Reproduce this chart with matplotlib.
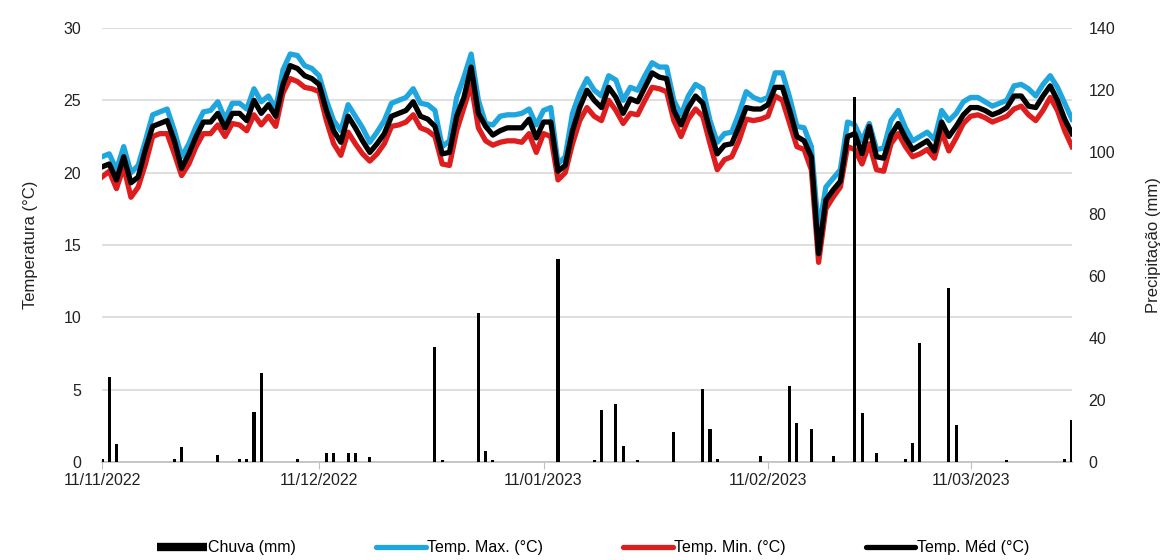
import numpy as np
import pandas as pd
import matplotlib
matplotlib.use('Agg')
import matplotlib.pyplot as plt
import matplotlib.dates as mdates
from matplotlib.lines import Line2D

plt.rcParams['font.family'] = ['Liberation Sans', 'DejaVu Sans']

# daily series, 11/11/2022 .. 25/03/2023
dates = pd.date_range('2022-11-11', '2023-03-25', freq='D')

temp_max = [21.1, 21.3, 20.2, 21.8, 20.0, 20.5, 22.2, 24.0, 24.2, 24.4, 22.9, 21.1, 22.0, 23.2, 24.2,
            24.3, 24.9, 23.7, 24.8, 24.8, 24.4, 25.8, 24.9, 25.3, 24.4, 27.1, 28.2, 28.1, 27.4, 27.2,
            26.7, 25.0, 23.6, 22.9, 24.7, 23.9, 23.1, 22.1, 22.8, 23.6, 24.8, 25.0, 25.2, 25.8, 24.8,
            24.7, 24.3, 21.8, 22.2, 25.2, 26.6, 28.2, 25.0, 23.4, 23.3, 23.9, 24.0, 24.0, 24.1, 24.4,
            23.3, 24.3, 24.5, 20.6, 21.1, 24.1, 25.5, 26.5, 25.7, 25.3, 26.7, 26.4, 25.0, 25.9, 25.7,
            26.7, 27.6, 27.3, 27.3, 25.0, 24.0, 25.3, 26.1, 25.8, 23.6, 22.1, 22.7, 22.8, 24.1, 25.6,
            25.2, 25.0, 25.2, 26.9, 26.9, 25.2, 23.2, 23.1, 21.8, 16.0, 19.0, 19.6, 20.2, 23.5, 23.3,
            22.2, 23.4, 21.6, 21.7, 23.6, 24.3, 23.1, 22.2, 22.5, 22.8, 22.3, 24.3, 23.6, 24.1, 24.9,
            25.2, 25.2, 24.9, 24.6, 24.8, 25.0, 26.0, 26.1, 25.8, 25.3, 26.1, 26.7, 25.9, 24.8, 23.7]

temp_min = [19.7, 20.1, 18.9, 20.4, 18.3, 19.0, 20.6, 22.5, 22.7, 22.7, 21.3, 19.8, 20.6, 21.8, 22.7,
            22.7, 23.3, 22.5, 23.4, 23.3, 22.9, 24.0, 23.3, 23.9, 23.2, 25.5, 26.5, 26.3, 25.9, 25.8,
            25.6, 23.6, 22.0, 21.2, 22.8, 22.0, 21.3, 20.8, 21.3, 22.0, 23.2, 23.3, 23.5, 24.0, 23.1,
            22.9, 22.5, 20.6, 20.5, 22.9, 24.5, 26.1, 23.1, 22.2, 21.9, 22.1, 22.2, 22.2, 22.1, 22.7,
            21.4, 22.7, 22.5, 19.5, 20.0, 22.0, 23.6, 24.5, 23.9, 23.6, 25.0, 24.3, 23.4, 24.1, 24.0,
            25.0, 25.9, 25.8, 25.6, 23.6, 22.5, 23.7, 24.4, 23.9, 22.0, 20.2, 20.9, 21.1, 22.2, 23.7,
            23.6, 23.7, 23.9, 25.3, 25.0, 23.4, 21.8, 21.6, 20.2, 13.8, 17.5, 18.3, 19.0, 21.8, 21.6,
            20.6, 22.0, 20.2, 20.1, 22.0, 22.7, 21.8, 21.1, 21.3, 21.6, 21.0, 22.8, 21.5, 22.4, 23.4,
            23.9, 24.0, 23.8, 23.5, 23.7, 23.9, 24.4, 24.6, 24.0, 23.6, 24.3, 25.2, 24.3, 22.9, 21.8]

temp_med = [20.4, 20.6, 19.5, 21.1, 19.3, 19.7, 21.6, 23.2, 23.4, 23.6, 22.2, 20.3, 21.3, 22.5, 23.5,
            23.5, 24.1, 23.1, 24.1, 24.1, 23.6, 25.0, 24.1, 24.7, 23.9, 26.1, 27.4, 27.2, 26.7, 26.5,
            26.1, 24.3, 22.9, 22.1, 23.9, 23.1, 22.2, 21.4, 22.0, 22.7, 23.9, 24.1, 24.3, 24.9, 23.9,
            23.7, 23.2, 21.3, 21.4, 23.9, 25.2, 27.3, 24.1, 23.2, 22.6, 22.9, 23.1, 23.1, 23.1, 23.7,
            22.4, 23.5, 23.5, 20.1, 20.5, 22.9, 24.5, 25.7, 25.0, 24.5, 25.9, 25.2, 24.1, 25.1, 24.9,
            25.9, 26.9, 26.6, 26.5, 24.3, 23.3, 24.5, 25.3, 24.8, 22.9, 21.3, 21.9, 22.0, 23.2, 24.5,
            24.4, 24.4, 24.7, 25.9, 25.9, 24.3, 22.5, 22.2, 21.1, 14.4, 18.1, 18.8, 19.4, 22.5, 22.7,
            21.3, 23.2, 21.1, 21.0, 22.6, 23.4, 22.4, 21.6, 21.9, 22.2, 21.5, 23.5, 22.5, 23.2, 24.0,
            24.5, 24.5, 24.3, 24.0, 24.2, 24.5, 25.3, 25.3, 24.6, 24.5, 25.3, 26.0, 25.0, 23.7, 22.7]

chuva = [1.0, 27.4, 5.8, 0, 0, 0, 0, 0, 0, 0, 1.0, 5.0, 0, 0, 0,
         0, 2.3, 0, 0, 1.0, 1.0, 16.0, 28.8, 0, 0, 0, 0, 1.0, 0, 0,
         0, 3.0, 3.0, 0, 3.0, 3.0, 0, 1.7, 0, 0, 0, 0, 0, 0, 0,
         0, 37.2, 0.5, 0, 0, 0, 0, 48.2, 3.7, 0.5, 0, 0, 0, 0, 0,
         0, 0, 0, 65.4, 0, 0, 0, 0, 0.5, 16.8, 0, 18.6, 5.2, 0, 0.5,
         0, 0, 0, 0, 9.8, 0, 0, 0, 23.4, 10.5, 1.0, 0, 0, 0, 0,
         0, 2.0, 0, 0, 0, 24.5, 12.7, 0, 10.6, 0, 0, 2.0, 0, 0, 117.8,
         15.9, 0, 3.0, 0, 0, 0, 1.0, 6.1, 38.4, 0, 0, 0, 56.1, 12.0, 0,
         0, 0, 0, 0, 0, 0.5, 0, 0, 0, 0, 0, 0, 0, 1.0, 13.4]

tick_dates = ['2022-11-11', '2022-12-11', '2023-01-11', '2023-02-11', '2023-03-11']

c_max = '#1fa6de'
c_min = '#de1e1e'
c_med = '#000000'
grid_c = '#d9d9d9'
txt_c = '#222222'

fig = plt.figure(figsize=(11.63, 5.6), dpi=100)
ax = fig.add_axes([0.0877, 0.175, 0.834, 0.775])

ax.plot(dates, temp_max, color=c_max, lw=3.8, solid_joinstyle='round', zorder=3)
ax.plot(dates, temp_min, color=c_min, lw=3.8, solid_joinstyle='round', zorder=3)
ax.plot(dates, temp_med, color=c_med, lw=3.8, solid_joinstyle='round', zorder=4)

ax.set_ylim(0, 30)
ax.set_yticks(np.arange(0, 31, 5))
ax.set_xlim(dates[0], dates[-1])
ax.yaxis.grid(True, color=grid_c, lw=1.2)
ax.set_axisbelow(True)
for s in ['top', 'left', 'right']:
    ax.spines[s].set_visible(False)
ax.spines['bottom'].set_color('#bfbfbf')
ax.spines['bottom'].set_linewidth(1.2)
ax.set_xticks(pd.to_datetime(tick_dates))
ax.xaxis.set_major_formatter(mdates.DateFormatter('%d/%m/%Y'))
ax.tick_params(axis='x', length=5, color='#bfbfbf', labelsize=11.5, pad=3, labelcolor=txt_c)
ax.tick_params(axis='y', length=0, labelsize=11.5, pad=15, labelcolor=txt_c)
ax.set_ylabel('Temperatura (°C)', fontsize=12, labelpad=18, color=txt_c)

# precipitation on the secondary axis
ax2 = ax.twinx()
ax2.bar(dates, chuva, width=0.42, color='black', zorder=5)
ax2.set_ylim(0, 140)
ax2.set_yticks(np.arange(0, 141, 20))
for s in ['top', 'left', 'right', 'bottom']:
    ax2.spines[s].set_visible(False)
ax2.tick_params(axis='y', length=0, labelsize=11.5, pad=12, labelcolor=txt_c)
ax2.set_ylabel('Precipitação (mm)', fontsize=12, labelpad=22, color=txt_c)
ax2.set_xlim(dates[0], dates[-1])

handles = [Line2D([], [], color='black', lw=6, solid_capstyle='butt'),
           Line2D([], [], color=c_max, lw=3.8, solid_capstyle='round'),
           Line2D([], [], color=c_min, lw=3.8, solid_capstyle='round'),
           Line2D([], [], color=c_med, lw=3.8, solid_capstyle='round')]
labels = ['Chuva (mm)', 'Temp. Max. (°C)', 'Temp. Min. (°C)', 'Temp. Méd (°C)']
fig.legend(handles, labels, loc='center', bbox_to_anchor=(0.51, 0.022), ncol=4, frameon=False,
           fontsize=11.5, handlelength=3.1, handletextpad=0.1, columnspacing=5.0)

fig.savefig('out.png', dpi=100)
